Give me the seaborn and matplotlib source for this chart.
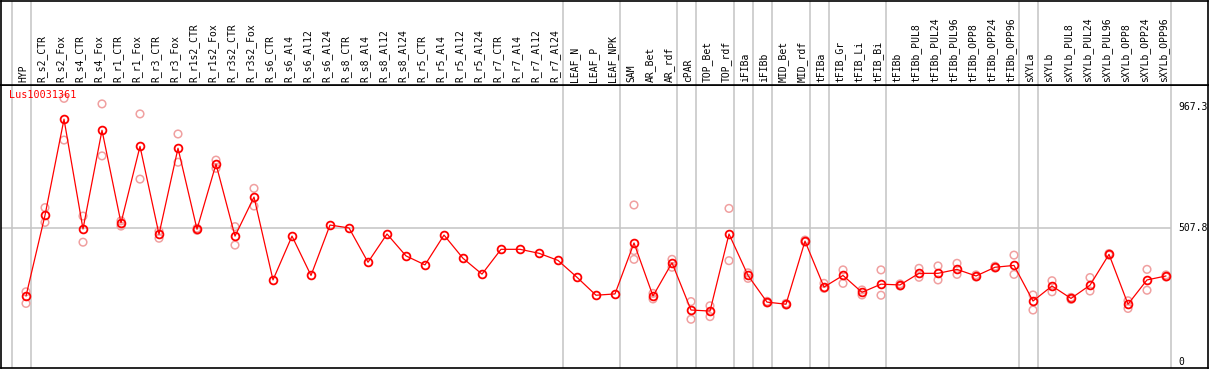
import matplotlib
matplotlib.use("Agg")
import matplotlib.pyplot as plt
import pandas as pd
import seaborn as sns

sns.set_style("white")
plt.rcParams["font.family"] = ["DejaVu Sans Mono", "DejaVu Sans"]

gene = "Lus10031361"

samples = [
    "HYP", "R_s2_CTR", "R_s2_Fox", "R_s4_CTR", "R_s4_Fox", "R_r1_CTR", "R_r1_Fox",
    "R_r3_CTR", "R_r3_Fox", "R_r1s2_CTR", "R_r1s2_Fox", "R_r3s2_CTR", "R_r3s2_Fox",
    "R_s6_CTR", "R_s6_Al4", "R_s6_Al12", "R_s6_Al24", "R_s8_CTR", "R_s8_Al4",
    "R_s8_Al12", "R_s8_Al24", "R_r5_CTR", "R_r5_Al4", "R_r5_Al12", "R_r5_Al24",
    "R_r7_CTR", "R_r7_Al4", "R_r7_Al12", "R_r7_Al24", "LEAF_N", "LEAF_P", "LEAF_NPK",
    "SAM", "AR_Bet", "AR_rdf", "cPAR", "TOP_Bet", "TOP_rdf", "iFIBa", "iFIBb",
    "MID_Bet", "MID_rdf", "tFIBa", "tFIB_Gr", "tFIB_Li", "tFIB_Bi", "tFIBb",
    "tFIBb_PUL8", "tFIBb_PUL24", "tFIBb_PUL96", "tFIBb_OPP8", "tFIBb_OPP24",
    "tFIBb_OPP96", "sXYLa", "sXYLb", "sXYLb_PUL8", "sXYLb_PUL24", "sXYLb_PUL96",
    "sXYLb_OPP8", "sXYLb_OPP24", "sXYLb_OPP96",
]

means = [
    250, 556, 920, 504, 878, 527, 817, 484, 810, 503, 750, 477, 625,
    311, 477, 328, 519, 508, 378, 485, 402, 368, 481, 393, 333,
    427, 427, 412, 385, 321, 253, 258,
    451, 250, 376, 197, 193, 485, 328, 227, 219, 458,
    284, 328, 264, 295, 292, 336, 336, 351, 326, 359, 366,
    231, 288, 241, 291, 408, 219, 311, 326,
]

rep_samples = [
    "HYP", "HYP", "R_s2_CTR", "R_s2_CTR", "R_s2_Fox", "R_s2_Fox", "R_s4_CTR", "R_s4_CTR",
    "R_s4_Fox", "R_s4_Fox", "R_r1_CTR", "R_r1_CTR", "R_r1_Fox", "R_r1_Fox",
    "R_r3_CTR", "R_r3_CTR", "R_r3_Fox", "R_r3_Fox", "R_r1s2_CTR", "R_r1s2_CTR",
    "R_r1s2_Fox", "R_r1s2_Fox", "R_r3s2_CTR", "R_r3s2_CTR", "R_r3s2_Fox", "R_r3s2_Fox",
    "SAM", "SAM", "SAM", "AR_Bet", "AR_Bet", "AR_rdf", "AR_rdf", "cPAR", "cPAR",
    "TOP_Bet", "TOP_Bet", "TOP_rdf", "TOP_rdf", "iFIBa", "iFIBa", "iFIBb", "iFIBb",
    "MID_Bet", "MID_Bet", "MID_rdf", "MID_rdf", "tFIBa", "tFIBa", "tFIB_Gr", "tFIB_Gr",
    "tFIB_Li", "tFIB_Li", "tFIB_Bi", "tFIB_Bi", "tFIBb", "tFIBb",
    "tFIBb_PUL8", "tFIBb_PUL8", "tFIBb_PUL24", "tFIBb_PUL24", "tFIBb_PUL96", "tFIBb_PUL96",
    "tFIBb_OPP8", "tFIBb_OPP8", "tFIBb_OPP24", "tFIBb_OPP24", "tFIBb_OPP96", "tFIBb_OPP96",
    "sXYLa", "sXYLa", "sXYLb", "sXYLb", "sXYLb_PUL8", "sXYLb_PUL8",
    "sXYLb_PUL24", "sXYLb_PUL24", "sXYLb_PUL96", "sXYLb_PUL96",
    "sXYLb_OPP8", "sXYLb_OPP8", "sXYLb_OPP24", "sXYLb_OPP24", "sXYLb_OPP96", "sXYLb_OPP96",
]

rep_values = [
    266, 222, 585, 529, 999, 841, 553, 454,
    978, 781, 535, 515, 940, 693,
    496, 469, 864, 757, 507, 499,
    765, 734, 513, 443, 658, 591,
    595, 422, 389, 260, 239, 389, 359, 229, 162,
    213, 172, 582, 384, 338, 317, 230, 224,
    222, 216, 462, 455, 298, 279, 349, 298,
    273, 254, 349, 253, 296, 288,
    355, 321, 364, 311, 374, 332,
    330, 322, 363, 356, 405, 332,
    254, 197, 308, 266, 245, 237,
    320, 269, 411, 405,
    232, 203, 351, 272, 330, 322,
]

# last sample of each tissue group (gray separators drawn after these)
group_ends = ["HYP", "R_r7_Al24", "LEAF_NPK", "AR_rdf", "cPAR", "TOP_rdf", "iFIBa",
              "iFIBb", "MID_rdf", "tFIBa", "tFIB_Bi", "tFIBb_OPP96", "sXYLa", "sXYLb_OPP96"]
ref_ticks = [967.3, 507.8, 0]
ref_labels = ["967.3", "507.8", "0"]

RED = "#ff0000"
PINK = "#f0a0a0"
GRID = "#c4c4c4"

W, H = 1209, 370
fig = plt.figure(figsize=(W / 100, H / 100), dpi=100)


def box(x0, y0, x1, y1):
    return [x0 / W, 1 - y1 / H, (x1 - x0) / W, (y1 - y0) / H]


ax = fig.add_axes(box(1, 85, 1208, 368))
axl = fig.add_axes(box(1, 0.5, 1208, 85), sharex=ax)

pos = {s: i for i, s in enumerate(samples)}
df = pd.DataFrame({"sample": samples, "value": means})
df["x"] = df["sample"].map(pos)
reps = pd.DataFrame({"sample": rep_samples, "value": rep_values})
reps["x"] = reps["sample"].map(pos)

# separators
bounds = [-0.75] + [pos[s] + 0.25 for s in group_ends]
for b in bounds:
    ax.axvline(b, color=GRID, lw=1.1, zorder=0)
    axl.axvline(b, color=GRID, lw=1.1, zorder=0)

xmin, xmax = -25 / 19, 1182 / 19
ax.hlines(ref_ticks[1], xmin, bounds[-1], color=GRID, lw=1.1, zorder=0)

sns.scatterplot(data=reps, x="x", y="value", ax=ax, marker="o", s=30,
                facecolors="none", edgecolor=PINK, linewidth=1.1, zorder=2)
sns.lineplot(data=df, x="x", y="value", ax=ax, sort=False, color=RED, lw=0.9,
             marker="o", ms=5.6, mfc="none", mec=RED, mew=1.3, zorder=3)

ax.set_xlim(xmin, xmax)
ax.set_ylim(-22.7, 1049.6)
ax.set_xlabel("")
ax.set_ylabel("")
ax.set_xticks([])
ax.set_yticks([])
axl.set_ylim(0, 1)
axl.set_yticks([])
axl.tick_params(labelbottom=False, bottom=False)

for a in (ax, axl):
    for sp in a.spines.values():
        sp.set_color("black")
        sp.set_linewidth(1.2)

for s in samples:
    axl.text(pos[s] - 0.15, 0.035, s, rotation=90, ha="center", va="bottom",
             fontsize=7, color="black")

for v, t in zip(ref_ticks, ref_labels):
    ax.text(bounds[-1] + 0.4, v, t, ha="left", va="center", fontsize=7, color="black")

ax.text(0.0066, 0.982, gene, transform=ax.transAxes, ha="left", va="top",
        fontsize=7.3, color=RED)

fig.savefig("out.png", dpi=100)
